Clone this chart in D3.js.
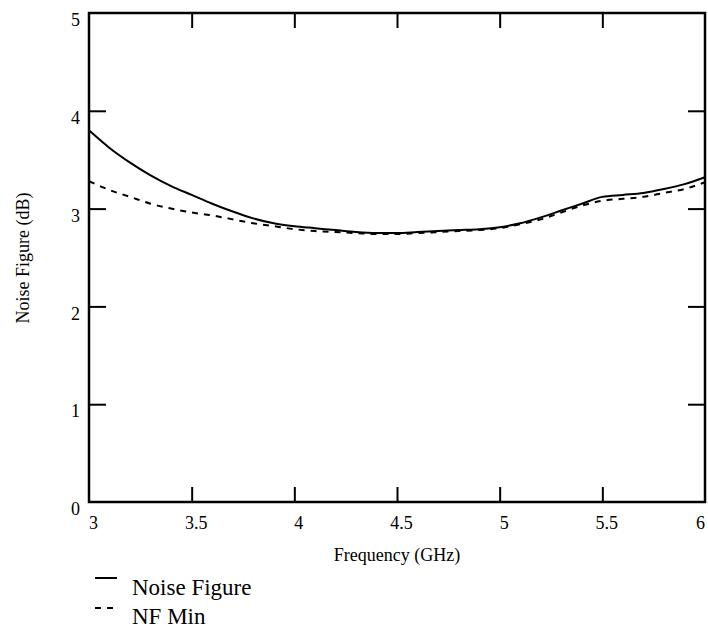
<!DOCTYPE html>
<html>
<head>
<meta charset="utf-8">
<script src="https://cdn.jsdelivr.net/npm/d3@7"></script>
<style>
  body { margin: 0; background: #fff; }
  text { font-family: "Liberation Serif", "Times New Roman", serif; fill: #000; }
</style>
</head>
<body>
<div id="chart"></div>
<script>
// frequency points (GHz)
const freq = [3.0, 3.1, 3.2, 3.3, 3.4, 3.5, 3.6, 3.7, 3.8, 3.9, 4.0, 4.1, 4.2, 4.3, 4.4, 4.5,
              4.6, 4.7, 4.8, 4.9, 5.0, 5.1, 5.2, 5.3, 5.4, 5.5, 5.6, 5.7, 5.8, 5.9, 6.0]
// noise figure (dB)
const noiseFigure = [3.80, 3.62, 3.47, 3.34, 3.23, 3.14, 3.05, 2.97, 2.90, 2.85, 2.82, 2.80, 2.78, 2.76, 2.75, 2.75,
                     2.76, 2.77, 2.78, 2.79, 2.81, 2.85, 2.91, 2.98, 3.05, 3.12, 3.14, 3.16, 3.20, 3.25, 3.32]
// minimum noise figure (dB)
const nfMin = [3.28, 3.19, 3.12, 3.05, 3.00, 2.96, 2.93, 2.89, 2.85, 2.82, 2.79, 2.77, 2.76, 2.75, 2.74, 2.74,
               2.75, 2.76, 2.77, 2.78, 2.80, 2.84, 2.89, 2.96, 3.03, 3.08, 3.10, 3.12, 3.16, 3.20, 3.27]
const xTicks = [3, 3.5, 4, 4.5, 5, 5.5, 6]
const yTicks = [0, 1, 2, 3, 4, 5]
const seriesNames = ['Noise Figure', 'NF Min']

let width = 708,
    height = 632,
    margin = { top: 13, right: 3, bottom: 130, left: 89 }

let svg = d3.select('#chart')
    .append('svg')
    .attr('width', width)
    .attr('height', height)

//scales
let x = d3.scaleLinear()
    .domain([3, 6])
    .range([margin.left, width - margin.right])
let y = d3.scaleLinear()
    .domain([0, 5])
    .range([height - margin.bottom, margin.top])

const fmt = d => d3.format('')(d)

//bottom axis, ticks inside
let xAxis = svg.append('g')
    .attr('transform', `translate(0,${y(0)})`)
    .call(d3.axisBottom(x).tickValues(xTicks).tickFormat(fmt).tickSizeInner(-15).tickSizeOuter(0).tickPadding(14))
xAxis.select('.domain').remove()
xAxis.selectAll('.tick').filter(d => d === 3 || d === 6).select('line').remove()
xAxis.selectAll('text').attr('font-size', 18).attr('dx', d => d === 6 ? -5 : 4)
xAxis.selectAll('line').attr('stroke-width', 2)

//top ticks
let xTop = svg.append('g')
    .attr('transform', `translate(0,${y(5)})`)
    .call(d3.axisTop(x).tickValues(xTicks.slice(1, -1)).tickFormat('').tickSizeInner(-15).tickSizeOuter(0))
xTop.select('.domain').remove()
xTop.selectAll('line').attr('stroke-width', 2)

//left axis
let yAxis = svg.append('g')
    .attr('transform', `translate(${x(3)},0)`)
    .call(d3.axisLeft(y).tickValues(yTicks).tickFormat(fmt).tickSizeInner(-17).tickSizeOuter(0).tickPadding(9))
yAxis.select('.domain').remove()
yAxis.selectAll('.tick').filter(d => d === 0 || d === 5).select('line').remove()
yAxis.selectAll('text').attr('font-size', 18).attr('dy', '0.7em')
yAxis.selectAll('line').attr('stroke-width', 2)

//right ticks
let yRight = svg.append('g')
    .attr('transform', `translate(${x(6)},0)`)
    .call(d3.axisRight(y).tickValues(yTicks.slice(1, -1)).tickFormat('').tickSizeInner(-17).tickSizeOuter(0))
yRight.select('.domain').remove()
yRight.selectAll('line').attr('stroke-width', 2)

//frame
svg.append('rect')
    .attr('x', x(3))
    .attr('y', y(5))
    .attr('width', x(6) - x(3))
    .attr('height', y(0) - y(5))
    .style('fill', 'none')
    .style('stroke', '#000')
    .style('stroke-width', 2.5)

//curves
let line = d3.line()
    .x((d, i) => x(freq[i]))
    .y(d => y(d))
    .curve(d3.curveMonotoneX)

svg.append('path')
    .datum(noiseFigure)
    .attr('d', line)
    .style('fill', 'none')
    .style('stroke', '#000')
    .style('stroke-width', 2)

svg.append('path')
    .datum(nfMin)
    .attr('d', line)
    .style('fill', 'none')
    .style('stroke', '#000')
    .style('stroke-width', 2)
    .style('stroke-dasharray', '6,6')

//axis titles
svg.append('text')
    .text('Frequency (GHz)')
    .attr('x', 397)
    .attr('y', 561)
    .attr('text-anchor', 'middle')
    .attr('font-size', 18)

svg.append('text')
    .text('Noise Figure (dB)')
    .attr('transform', 'translate(29,258) rotate(-90)')
    .attr('text-anchor', 'middle')
    .attr('font-size', 18)

//legend
seriesNames.forEach((name, i) => {
    svg.append('line')
        .attr('x1', 95)
        .attr('x2', 117)
        .attr('y1', 578 + i * 30)
        .attr('y2', 578 + i * 30)
        .style('stroke', '#000')
        .style('stroke-width', 2)
        .style('stroke-dasharray', i === 0 ? null : '6,6')
    svg.append('text')
        .text(name)
        .attr('x', 132)
        .attr('y', 595 + i * 29)
        .attr('font-size', 23)
})
</script>
</body>
</html>
